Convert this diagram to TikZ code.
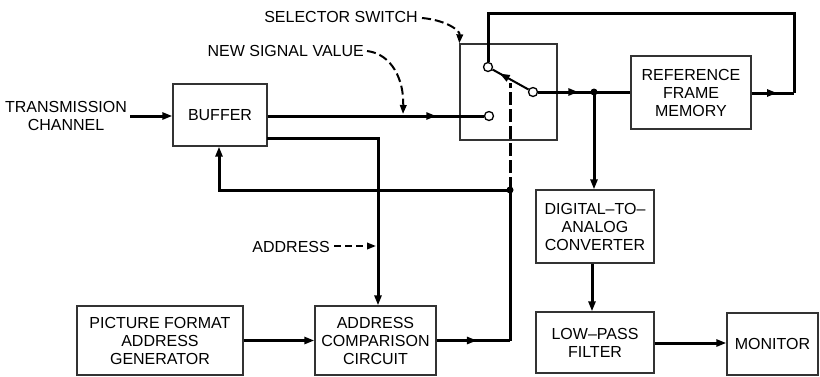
\documentclass[tikz,border=0pt]{standalone}
\usepackage{fontspec}
\setmainfont{Liberation Sans}
\usetikzlibrary{arrows.meta,decorations.markings}
\begin{document}
\begin{tikzpicture}[x=1pt,y=-1pt,
  every node/.style={font=\fontsize{16}{18}\selectfont},
  blk/.style={draw=black!80,line width=1.3pt,minimum width=#1,inner sep=0pt,align=center},
  wire/.style={line width=3pt,line join=miter},
  tip/.style={-{Triangle[length=10pt,width=7pt]}},
  midarr/.style={postaction={decorate,decoration={markings,
     mark=at position #1 with {\arrow{Triangle[length=10pt,width=7pt]}}}}},
  lbl/.style={align=center,inner sep=0pt},
  contact/.style={circle,draw,line width=1.3pt,fill=white,minimum size=9pt,inner sep=0pt},
  jdot/.style={circle,fill,minimum size=7pt,inner sep=0pt},
  dsh/.style={line width=2pt,dash pattern=on 9pt off 4pt},
  ctrl/.style={line width=3pt,dash pattern=on 13pt off 4pt}
]
\useasboundingbox (0,0) rectangle (820,376);

% blocks
\node[blk=94pt,minimum height=62pt] (buf) at (220,115) {BUFFER};
\node[blk=97pt,minimum height=96pt] (sw) at (508.5,92) {};
\node[blk=120pt,minimum height=73pt] (mem) at (691,92.5) {REFERENCE\\FRAME\\MEMORY};
\node[blk=118pt,minimum height=73pt] (dac) at (595,226.5) {DIGITAL--TO--\\ANALOG\\CONVERTER};
\node[blk=118pt,minimum height=61pt] (lpf) at (595,342.5) {LOW--PASS\\FILTER};
\node[blk=91pt,minimum height=62pt] (mon) at (772.5,344) {MONITOR};
\node[blk=166pt,minimum height=69pt] (gen) at (160,340.5) {PICTURE FORMAT\\ADDRESS\\GENERATOR};
\node[blk=121pt,minimum height=69pt] (cmp) at (375.5,340.5) {ADDRESS\\COMPARISON\\CIRCUIT};

% labels
\node[lbl] (trans) at (66,116) {TRANSMISSION\\CHANNEL};
\node[lbl,anchor=east] (nsv) at (364,51) {NEW SIGNAL VALUE};
\node[lbl,anchor=east] (sel) at (418,17) {SELECTOR SWITCH};
\node[lbl,anchor=east] (addr) at (330,247) {ADDRESS};

% switch contacts
\node[contact] (ctop) at (488,67) {};
\node[contact] (cbot) at (489,116) {};
\node[contact] (cpiv) at (533,92) {};
\node[jdot] (d1) at (510,190) {};
\node[jdot] (d2) at (594,92) {};
\coordinate (armpt) at (510,83);
\coordinate (nsvtip) at (403,114);
\coordinate (cr) at (510,340.5);
\coordinate (lr) at (794,93);

% connectors
\draw[wire,tip] (trans.east) ++(3,0) coordinate (tr0) -- (buf.west |- tr0);
\draw[wire,midarr=0.78] (buf.east |- cbot) -- (cbot.west);
\draw[wire,tip] (267,138) -| (cmp.north -| 378,0);
\draw[wire,midarr=0.55] (cmp.east) -- (cr);
\draw[wire] (cr) -- (d1.center);
\draw[wire,tip] (d1.center) -- (219,190) -- (buf.south -| 219,0);
\draw[ctrl] (d1.center) -- (armpt);
\draw[line width=2pt,midarr=0.8] (cpiv) -- (ctop);
\draw[wire,midarr=0.72] (cpiv.east) -- (d2.center);
\draw[wire] (d2.center) -- (mem.west |- d2);
\draw[wire,tip] (d2.center) -- (dac.north -| d2);
\draw[wire,midarr=0.6] (mem.east |- lr) -- (lr);
\draw[wire] (lr) -- (794,13) -- (488,13) -- (ctop.north);
\draw[wire,tip] (dac.south -| 592,0) -- (lpf.north -| 592,0);
\draw[wire,tip] (lpf.east |- 0,343) -- (mon.west |- 0,343);
\draw[wire,tip] (gen.east) -- (cmp.west);

% dashed label pointers
\draw[dsh,-{Triangle[length=9pt,width=6.5pt]}] (nsv.east) ++(3,0) .. controls (392,54) and (404,80) .. (nsvtip);
\draw[dsh,-{Triangle[length=9pt,width=6.5pt]}] (sel.east) ++(4,1) .. controls (445,20) and (460,30) .. (sw.north west);
\draw[dsh,dash pattern=on 7pt off 4pt,-{Triangle[length=9pt,width=6.5pt]}] (addr.east) ++(4,-1) -- (376,246);
\end{tikzpicture}
\end{document}
